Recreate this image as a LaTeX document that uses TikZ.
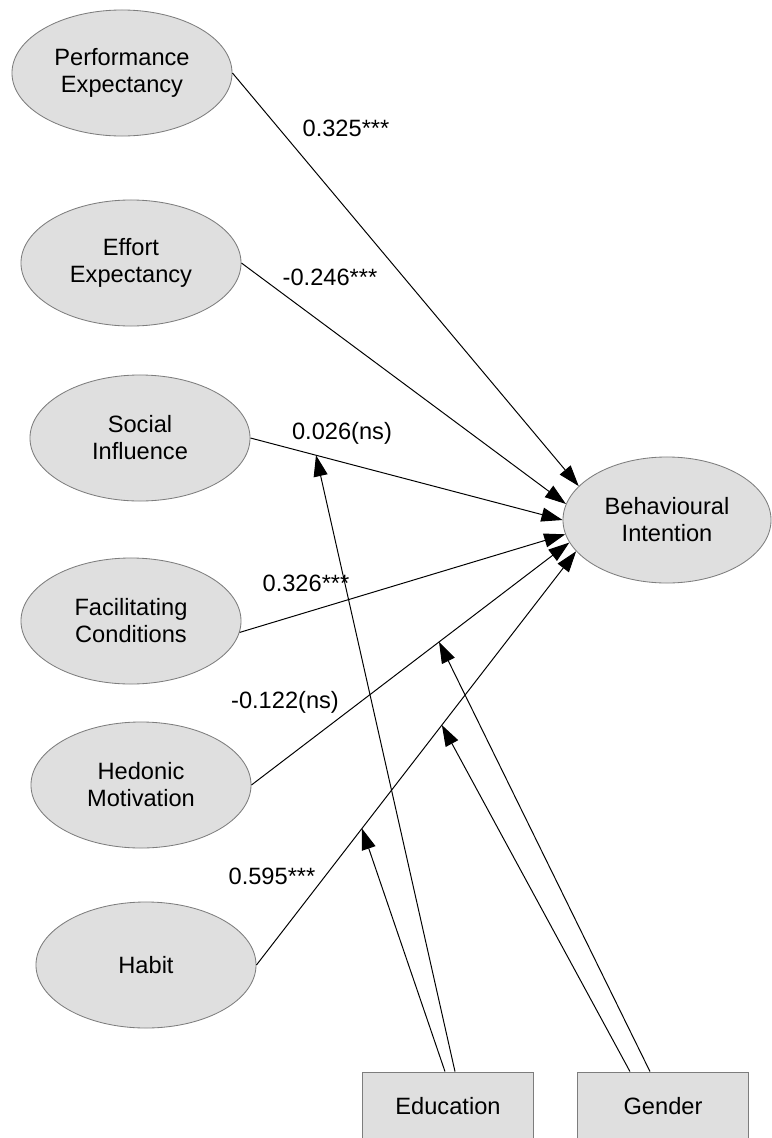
\documentclass[tikz,border=0pt]{standalone}
\usepackage{fontspec}
\setmainfont{Liberation Sans}
\usepackage{tikz}
\usetikzlibrary{arrows.meta,shapes.geometric}
\definecolor{fillcol}{RGB}{223,223,223}
\definecolor{bordercol}{RGB}{125,125,125}
\tikzset{
    construct/.style={ellipse, draw=bordercol, fill=fillcol, line width=0.6pt,
        minimum width=5.5cm, minimum height=3.15cm, inner sep=0pt, align=center},
    moderator/.style={rectangle, draw=bordercol, fill=fillcol, line width=0.6pt,
        minimum width=4.275cm, minimum height=1.7cm, inner sep=0pt},
    coef/.style={inner sep=0pt},
    effect/.style={draw, line width=0.7pt, -{Triangle[length=15pt,width=10pt]}}
}

\begin{document}
\begin{tikzpicture}[x=0.025cm, y=-0.025cm, font=\fontsize{16.8}{19.2}\selectfont]

    \useasboundingbox (0,0) rectangle (771,1138);

    % Constructs on the left
    \node[construct] (PE) at (122,73) {Performance\\Expectancy};
    \node[construct] (EE) at (131,263) {Effort\\Expectancy};
    \node[construct] (SI) at (140,438) {Social\\Influence};
    \node[construct] (FC) at (131,621) {Facilitating\\Conditions};
    \node[construct] (HM) at (141,785) {Hedonic\\Motivation};
    \node[construct] (HB) at (146,965) {Habit};

    % Outcome
    \node[construct, minimum width=5.2cm] (BI) at (667,520) {Behavioural\\Intention};

    % Moderators
    \node[moderator] (Edu) at (448,1106) {Education};
    \node[moderator] (Gen) at (663,1106) {Gender};

    % Direct effects on the outcome
    \draw[effect] (PE.east) -- (BI.159);
    \draw[effect] (EE.east) -- (BI.171);
    \draw[effect] (SI.east) -- coordinate[pos=0.21] (SImod) (BI.180);
    \draw[effect] (FC.-6) -- (BI.188);
    \draw[effect] (HM.east) -- coordinate[pos=0.59] (HMmod) (BI.193);
    \draw[effect] (HB.east) -- coordinate[pos=0.33] (HBmodE)
        coordinate[pos=0.58] (HBmodG) (BI.199);

    % Moderating effects
    \draw[effect] ([xshift=-0.075cm]Edu.north) -- (HBmodE);
    \draw[effect] ([xshift=0.175cm]Edu.north) -- (SImod);
    \draw[effect] ([xshift=-0.825cm]Gen.north) -- (HBmodG);
    \draw[effect] ([xshift=-0.325cm]Gen.north) -- (HMmod);

    % Path coefficients
    \node[coef] (cPE) at (346,128) {0.325***};
    \node[coef] (cEE) at (330,277) {-0.246***};
    \node[coef] (cSI) at (342,433) {0.026(ns)};
    \node[coef] (cFC) at (306,583) {0.326***};
    \node[coef] (cHM) at (285,702) {-0.122(ns)};
    \node[coef] (cHB) at (272,876) {0.595***};

\end{tikzpicture}
\end{document}
